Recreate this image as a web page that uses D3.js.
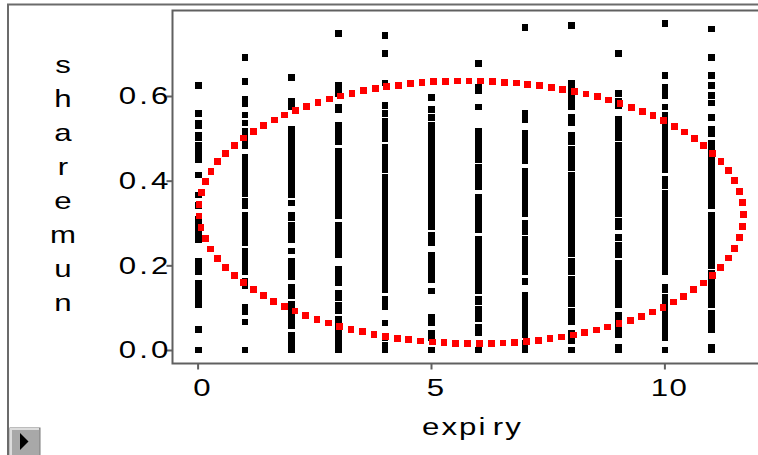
<!DOCTYPE html>
<html>
<head>
<meta charset="utf-8">
<script src="https://cdnjs.cloudflare.com/ajax/libs/d3/7.8.5/d3.min.js"></script>
<style>
  body { margin: 0; background: #fff; }
  svg { display: block; font-family: "Liberation Sans", Arial, sans-serif; }
</style>
</head>
<body>
<div class="chart-svg"></div>
<script>
// expiry levels and the sharemun values observed at each level
var expiryLevels = [0, 1, 2, 3, 4, 5, 6, 7, 8, 9, 10, 11];

var sharemun0 = [0.625,0.559,0.535,0.531,0.507,0.502,0.483,0.472,0.461,0.450,0.413,0.366,0.341,0.309,0.297,0.285,0.273,0.261,0.209,0.198,0.186,0.158,0.147,0.136,0.125,0.115,0.106,0.048,0.0];
var sharemun1 = [0.691,0.634,0.592,0.582,0.555,0.536,0.516,0.505,0.494,0.483,0.455,0.444,0.433,0.422,0.411,0.400,0.389,0.378,0.370,0.351,0.342,0.318,0.307,0.296,0.285,0.274,0.263,0.254,0.233,0.222,0.211,0.198,0.186,0.162,0.153,0.101,0.091,0.066,0.0];
var sharemun2 = [0.644,0.587,0.575,0.521,0.509,0.497,0.485,0.473,0.461,0.449,0.437,0.425,0.413,0.401,0.389,0.377,0.368,0.347,0.318,0.313,0.294,0.283,0.272,0.261,0.234,0.209,0.197,0.185,0.172,0.148,0.138,0.129,0.109,0.098,0.087,0.076,0.065,0.057,0.035,0.021,0.006,0.0];
var sharemun3 = [0.748,0.625,0.614,0.605,0.573,0.568,0.531,0.520,0.509,0.498,0.493,0.469,0.457,0.445,0.433,0.421,0.409,0.397,0.385,0.373,0.361,0.349,0.337,0.326,0.318,0.294,0.282,0.270,0.258,0.246,0.235,0.224,0.191,0.180,0.169,0.159,0.134,0.124,0.106,0.093,0.073,0.062,0.051,0.040,0.029,0.018,0.007,0.0];
var sharemun4 = [0.743,0.701,0.631,0.578,0.559,0.540,0.529,0.518,0.507,0.499,0.479,0.468,0.457,0.446,0.435,0.427,0.408,0.396,0.384,0.372,0.360,0.348,0.336,0.324,0.312,0.300,0.288,0.276,0.264,0.252,0.240,0.228,0.216,0.204,0.192,0.180,0.168,0.156,0.143,0.120,0.111,0.102,0.064,0.028,0.011,0.0];
var sharemun5 = [0.597,0.568,0.549,0.531,0.519,0.507,0.495,0.483,0.471,0.459,0.447,0.435,0.423,0.411,0.399,0.387,0.375,0.363,0.351,0.339,0.327,0.315,0.303,0.291,0.271,0.262,0.253,0.224,0.212,0.200,0.189,0.178,0.167,0.139,0.077,0.065,0.039,0.030,0.0];
var sharemun6 = [0.677,0.620,0.612,0.574,0.516,0.505,0.494,0.483,0.472,0.461,0.450,0.431,0.420,0.409,0.398,0.386,0.360,0.349,0.338,0.327,0.316,0.305,0.294,0.285,0.261,0.250,0.239,0.228,0.217,0.206,0.195,0.184,0.173,0.162,0.151,0.140,0.120,0.115,0.096,0.085,0.073,0.054,0.040,0.0];
var sharemun7 = [0.762,0.559,0.545,0.512,0.501,0.490,0.479,0.468,0.457,0.446,0.422,0.411,0.400,0.389,0.378,0.367,0.356,0.345,0.334,0.323,0.299,0.289,0.280,0.261,0.250,0.239,0.228,0.217,0.206,0.195,0.184,0.162,0.129,0.118,0.107,0.096,0.085,0.074,0.063,0.052,0.041,0.036,0.016,0.0];
var sharemun8 = [0.767,0.630,0.619,0.608,0.597,0.586,0.575,0.549,0.537,0.507,0.493,0.474,0.463,0.452,0.441,0.431,0.413,0.401,0.389,0.377,0.365,0.353,0.341,0.329,0.317,0.305,0.293,0.281,0.269,0.257,0.245,0.233,0.228,0.209,0.197,0.186,0.167,0.155,0.143,0.131,0.120,0.110,0.091,0.080,0.068,0.039,0.030,0.021,0.0];
var sharemun9 = [0.701,0.606,0.587,0.578,0.545,0.534,0.523,0.512,0.502,0.483,0.471,0.459,0.447,0.435,0.423,0.411,0.399,0.387,0.375,0.363,0.351,0.339,0.327,0.323,0.304,0.291,0.266,0.247,0.236,0.225,0.205,0.194,0.183,0.172,0.161,0.150,0.139,0.128,0.117,0.106,0.082,0.071,0.060,0.048,0.035,0.006,0.0];
var sharemun10 = [0.771,0.649,0.620,0.610,0.601,0.574,0.554,0.542,0.530,0.518,0.506,0.494,0.482,0.470,0.458,0.446,0.434,0.425,0.403,0.389,0.370,0.358,0.346,0.334,0.322,0.310,0.298,0.286,0.274,0.262,0.250,0.238,0.226,0.214,0.202,0.190,0.186,0.148,0.143,0.124,0.113,0.102,0.091,0.080,0.069,0.058,0.047,0.036,0.030,0.0];
var sharemun11 = [0.758,0.691,0.649,0.625,0.601,0.583,0.549,0.521,0.512,0.488,0.476,0.464,0.452,0.440,0.428,0.416,0.404,0.392,0.380,0.368,0.356,0.342,0.318,0.306,0.294,0.282,0.270,0.258,0.246,0.234,0.222,0.210,0.200,0.181,0.170,0.159,0.148,0.137,0.126,0.115,0.106,0.087,0.076,0.065,0.054,0.049,0.007,0.0];

var sharemunByExpiry = [sharemun0, sharemun1, sharemun2, sharemun3, sharemun4, sharemun5,
                        sharemun6, sharemun7, sharemun8, sharemun9, sharemun10, sharemun11];

// density ellipse: centre, semi-axes, small shear (tilt)
var ellipseCenter = [5.863, 0.3253];
var ellipseRadii = [5.84, 0.3103];
var ellipseShear = -0.005;

var xTicks = [0, 5, 10];
var yTicks = [0.0, 0.2, 0.4, 0.6];
var xTitle = ["expi", "ry"];
var yTitle = "sharemun";

var svgWidth = 758;
var svgHeight = 455;
var fontSize = 24;
var stretch = 1.3;   // the report font is drawn wide

var svg = d3.select(".chart-svg")
    .append("svg")
    .attr("width", svgWidth)
    .attr("height", svgHeight);

svg.append("rect")
    .attr("width", svgWidth)
    .attr("height", svgHeight)
    .attr("fill", "#fff");

var frame = {left: 172.5, top: 10.5, bottom: 363.5, right: 775};

var xScale = d3.scaleLinear()
    .domain([0, 10])
    .range([197.6, 664.4]);

var yScale = d3.scaleLinear()
    .domain([0, 0.6])
    .range([350, 96]);

// outer report frame
svg.append("path")
    .attr("d", "M8,460V4.5H770")
    .attr("fill", "none")
    .attr("stroke", "#6b6b6b")
    .attr("stroke-width", 2);

// plot frame
svg.append("rect")
    .attr("x", frame.left)
    .attr("y", frame.top)
    .attr("width", frame.right - frame.left)
    .attr("height", frame.bottom - frame.top)
    .attr("fill", "#fff")
    .attr("stroke", "#606060")
    .attr("stroke-width", 2);

// flatten points
var points = [];
expiryLevels.forEach(function(e, i){
    sharemunByExpiry[i].forEach(function(v){
        points.push({expiry: e, sharemun: v});
    });
});

var pointSize = 6.6;
var plot = svg.append("g").attr("class", "plot");

plot.selectAll("rect.point")
    .data(points)
    .enter()
    .append("rect")
    .attr("class", "point")
    .attr("x", function(d){ return xScale(d.expiry) - pointSize / 2 + 0.7; })
    .attr("y", function(d){ return yScale(d.sharemun) - pointSize / 2; })
    .attr("width", pointSize)
    .attr("height", pointSize)
    .attr("fill", "#000")
    .attr("shape-rendering", "crispEdges");

// ellipse outline (hidden helper path) then dotted red squares along it
var ellipseData = d3.range(0, 361).map(function(deg){
    var t = deg * Math.PI / 180;
    return [ellipseCenter[0] + ellipseRadii[0] * Math.cos(t),
            ellipseCenter[1] + ellipseRadii[1] * Math.sin(t) + ellipseShear * Math.cos(t)];
});

var ellipsePath = plot.append("path")
    .datum(ellipseData)
    .attr("d", d3.line()
        .x(function(d){ return xScale(d[0]); })
        .y(function(d){ return yScale(d[1]); }))
    .attr("fill", "none")
    .attr("stroke", "none");

var node = ellipsePath.node();
var totalLength = node.getTotalLength();
var dotCount = Math.round(totalLength / 11.8);
var dots = d3.range(dotCount).map(function(i){
    return node.getPointAtLength(i * totalLength / dotCount);
});

var dotSize = 6.8;
plot.selectAll("rect.dot")
    .data(dots)
    .enter()
    .append("rect")
    .attr("class", "dot")
    .attr("x", function(d){ return d.x - dotSize / 2; })
    .attr("y", function(d){ return d.y - dotSize / 2; })
    .attr("width", dotSize)
    .attr("height", dotSize)
    .attr("fill", "#ff0000")
    .attr("shape-rendering", "crispEdges");

// axes
var xAxis = d3.axisBottom(xScale)
    .tickValues(xTicks)
    .tickSize(6)
    .tickPadding(9)
    .tickFormat(d3.format("d"));

var yAxis = d3.axisLeft(yScale)
    .tickValues(yTicks)
    .tickSize(6)
    .tickFormat(d3.format(".1f"));

var gx = svg.append("g")
    .attr("transform", "translate(0," + frame.bottom + ")")
    .call(xAxis);
gx.select(".domain").remove();
gx.selectAll("line").attr("stroke", "#606060").attr("stroke-width", 2);
gx.selectAll("text")
    .attr("fill", "#000")
    .attr("font-size", fontSize)
    .attr("letter-spacing", 1)
    .attr("x", 3.5)
    .attr("transform", "scale(" + stretch + ",1)");

var gy = svg.append("g")
    .attr("transform", "translate(" + frame.left + ",0)")
    .call(yAxis);
gy.select(".domain").remove();
gy.selectAll("line").attr("stroke", "#606060").attr("stroke-width", 2);
gy.selectAll("text")
    .attr("fill", "#000")
    .attr("font-size", fontSize)
    .attr("letter-spacing", 2.4)
    .attr("x", -0.8)
    .attr("transform", "scale(" + stretch + ",1)");

// titles
var xt = svg.append("text")
    .attr("transform", "translate(422,435) scale(" + stretch + ",1)")
    .attr("font-size", fontSize)
    .attr("letter-spacing", 1.6);
xt.append("tspan").text(xTitle[0]);
xt.append("tspan").attr("dx", 4).text(xTitle[1]);

svg.append("g")
    .selectAll("text")
    .data(yTitle.split(""))
    .enter()
    .append("text")
    .attr("transform", function(d, i){
        return "translate(63," + (73 + i * 34) + ") scale(" + stretch + ",1)";
    })
    .attr("text-anchor", "middle")
    .attr("font-size", fontSize)
    .text(function(d){ return d; });

// little disclosure button at the bottom left
var btn = svg.append("g");
btn.append("rect")
    .attr("x", 10).attr("y", 428).attr("width", 30).attr("height", 28)
    .attr("fill", "#a8a8a8").attr("stroke", "#7a7a7a").attr("stroke-width", 1);
btn.append("path")
    .attr("d", "M11,455V429H39")
    .attr("fill", "none").attr("stroke", "#dcdcdc").attr("stroke-width", 2);
btn.append("path")
    .attr("d", "M20,433L28.5,441.5L20,450Z")
    .attr("fill", "#000");
</script>
</body>
</html>
